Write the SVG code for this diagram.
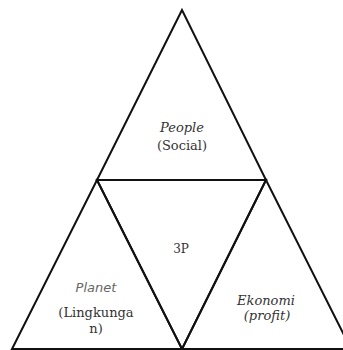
<svg xmlns="http://www.w3.org/2000/svg" width="343" height="350" viewBox="0 0 343 350">
<style>
.ln{fill:none;stroke:#111;stroke-width:2;stroke-linejoin:miter}
.sf{font-family:"DejaVu Serif","Liberation Serif",serif;font-size:13px;fill:#333;text-anchor:middle}
.it{font-style:italic}
.ss{font-family:"DejaVu Sans","Liberation Sans",sans-serif;font-size:13px;font-style:italic;fill:#666;text-anchor:middle}
</style>
<defs>
<radialGradient id="smudge" cx="0.5" cy="1" r="0.6">
<stop offset="0" stop-color="#bbb" stop-opacity="0.8"/>
<stop offset="1" stop-color="#fff" stop-opacity="0"/>
</radialGradient>
</defs>
<rect width="343" height="350" fill="#fff"/>
<ellipse cx="182" cy="350" rx="110" ry="16" fill="url(#smudge)"/>
<g id="people">
<path class="ln" d="M182,10 L97,180 L266,180 Z"/>
<text class="sf it" x="182" y="132">People</text>
<text class="sf" x="182" y="150">(Social)</text>
</g>
<g id="planet">
<path class="ln" d="M97,180 L12,349 L182,349 Z"/>
<text class="ss" x="96" y="292">Planet</text>
<text class="sf" x="96" y="317">(Lingkunga</text>
<text class="sf" x="96" y="333">n)</text>
</g>
<g id="center">
<path class="ln" d="M97,180 L266,180 L182,349 Z"/>
<text class="sf" x="181" y="253" style="font-size:12px">3P</text>
</g>
<g id="ekonomi">
<path class="ln" d="M266,180 L182,349 L351,349 Z"/>
<text class="sf it" x="266" y="305">Ekonomi</text>
<text class="sf it" x="267" y="320">(profit)</text>
</g>
</svg>
